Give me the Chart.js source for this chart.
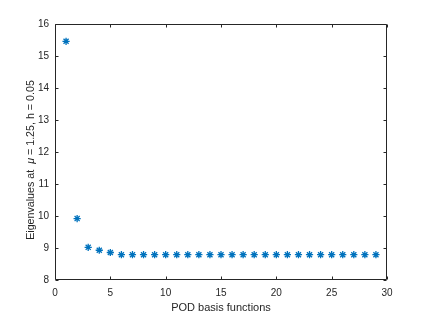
<!DOCTYPE html>
<html><head><meta charset="utf-8">
<script src="https://cdn.jsdelivr.net/npm/chart.js@4/dist/chart.umd.min.js"></script>
<style>html,body{margin:0;padding:0;background:#fff}#c{display:block}</style>
</head><body>
<canvas id="c" width="428" height="315"></canvas>
<script>
const basisIndex = [1,2,3,4,5,6,7,8,9,10,11,12,13,14,15,16,17,18,19,20,21,22,23,24,25,26,27,28,29];
const eigenvalues = [15.46,9.92,9.02,8.93,8.86,8.79,8.79,8.79,8.79,8.79,8.79,8.79,8.79,8.79,8.79,8.79,8.79,8.79,8.79,8.79,8.79,8.79,8.79,8.79,8.79,8.79,8.79,8.79,8.79];
const xTicks = [0,5,10,15,20,25,30];
const yTicks = [8,9,10,11,12,13,14,15,16];
const xLabel = 'POD basis functions';
const yLabelParts = [['Eigenvalues at  ', false], ['\u03bc', true], [' = 1.25, h = 0.05', false]];

const FONT = '"Liberation Sans", Arial, sans-serif';
const AX = '#262626';

const boxPlugin = {
  id: 'box',
  afterDraw(chart) {
    const {ctx, chartArea: a, scales: {x, y}} = chart;
    ctx.save();
    ctx.strokeStyle = AX;
    ctx.lineWidth = 1;
    const L = Math.round(a.left) + 0.5, R = Math.round(a.right) - 0.5;
    const T = Math.round(a.top) + 0.5, B = Math.round(a.bottom) - 0.5;
    ctx.beginPath();
    ctx.rect(L, T, R - L, B - T);
    const tl = 3;
    xTicks.forEach(v => {
      const px = Math.round(x.getPixelForValue(v)) + 0.5;
      ctx.moveTo(px, B); ctx.lineTo(px, B - tl);
      ctx.moveTo(px, T); ctx.lineTo(px, T + tl);
    });
    yTicks.forEach(v => {
      const py = Math.round(y.getPixelForValue(v)) + 0.5;
      ctx.moveTo(L, py); ctx.lineTo(L + tl, py);
      ctx.moveTo(R, py); ctx.lineTo(R - tl, py);
    });
    ctx.stroke();
    // y label with italic mu
    ctx.fillStyle = AX;
    ctx.translate(34, 160);
    ctx.rotate(-Math.PI / 2);
    ctx.textBaseline = 'alphabetic';
    const size = 10.7;
    let total = 0;
    const widths = yLabelParts.map(([t, it]) => {
      ctx.font = (it ? 'italic ' : '') + size + 'px ' + FONT;
      const w = ctx.measureText(t).width; total += w; return w;
    });
    let cx = -total / 2;
    yLabelParts.forEach(([t, it], i) => {
      ctx.font = (it ? 'italic ' : '') + size + 'px ' + FONT;
      ctx.fillText(t, cx, 0);
      cx += widths[i];
    });
    ctx.restore();
  }
};

new Chart(document.getElementById('c'), {
  type: 'scatter',
  data: {
    datasets: [{
      data: basisIndex.map((v, i) => ({x: v, y: eigenvalues[i]})),
      pointStyle: 'star',
      radius: 3.6,
      borderColor: '#0072BD',
      backgroundColor: '#0072BD',
      borderWidth: 1.3,
      showLine: false
    }]
  },
  options: {
    responsive: false,
    animation: false,
    events: [],
    layout: {padding: {left: 0, right: 41, top: 24, bottom: 0}},
    plugins: {legend: {display: false}, tooltip: {enabled: false}},
    scales: {
      x: {
        type: 'linear', min: 0, max: 30,
        afterBuildTicks: s => { s.ticks = xTicks.map(v => ({value: v})); },
        afterFit: s => { s.height = 35; },
        grid: {display: false, drawTicks: false},
        border: {display: false},
        ticks: {color: AX, font: {family: FONT, size: 10}, padding: 7, maxRotation: 0, autoSkip: false},
        title: {display: true, text: xLabel, color: AX, font: {family: FONT, size: 11}, padding: {top: 1, bottom: 0}}
      },
      y: {
        type: 'linear', min: 8, max: 16,
        afterBuildTicks: s => { s.ticks = yTicks.map(v => ({value: v})); },
        afterFit: s => { s.width = 55; },
        grid: {display: false, drawTicks: false},
        border: {display: false},
        ticks: {color: AX, font: {family: FONT, size: 10}, padding: 6, autoSkip: false}
      }
    }
  },
  plugins: [boxPlugin]
});
</script>
</body></html>
